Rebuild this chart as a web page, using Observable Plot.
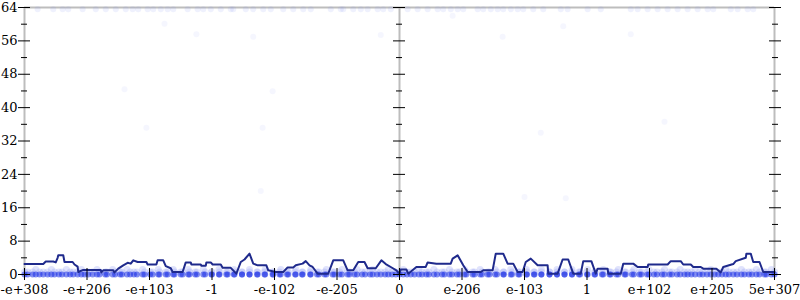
<!DOCTYPE html>
<html>
<head>
<meta charset="utf-8">
<script src="https://cdn.jsdelivr.net/npm/d3@7"></script>
<script src="https://cdn.jsdelivr.net/npm/@observablehq/plot@0.6"></script>
<style>
  html, body { margin: 0; padding: 0; background: #fff; }
  #chart svg { display: block; }
</style>
</head>
<body>
<div id="chart"></div>
<script>
// X axis: evenly spaced positions with their labels
const xTicks = [-6, -5, -4, -3, -2, -1, 0, 1, 2, 3, 4, 5, 6];
const xLabels = ["-e+308", "-e+206", "-e+103", "-1", "-e-102", "-e-205", "0",
                 "e-206", "e-103", "1", "e+102", "e+205", "5e+307"];
const yMajor = [0, 8, 16, 24, 32, 40, 48, 56, 64];
const yMinor = [4, 12, 20, 28, 36, 44, 52, 60];

// Rolling line (x position, value)
const lineX = [-6.00,-5.70,-5.66,-5.54,-5.50,-5.47,-5.46,-5.38,-5.36,-5.23,-5.20,-5.15,-5.14,-5.06,-4.78,-4.77,-4.74,-4.58,-4.56,-4.50,-4.42,-4.35,-4.30,-4.26,-4.19,-4.05,-4.03,-3.89,-3.87,-3.78,-3.74,-3.66,-3.63,-3.47,-3.42,-3.34,-3.33,-3.18,-3.17,-3.10,-3.09,-3.02,-2.99,-2.86,-2.83,-2.70,-2.61,-2.54,-2.48,-2.40,-2.34,-2.27,-2.13,-2.10,-1.98,-1.86,-1.79,-1.70,-1.66,-1.55,-1.50,-1.44,-1.39,-1.31,-1.14,-1.06,-0.90,-0.83,-0.74,-0.66,-0.56,-0.51,-0.38,-0.29,-0.22,-0.14,-0.05,0.00,0.02,0.11,0.14,0.27,0.42,0.45,0.59,0.82,0.85,0.90,0.93,1.02,1.09,1.30,1.34,1.49,1.54,1.66,1.73,1.82,1.89,1.97,2.02,2.10,2.21,2.37,2.38,2.53,2.61,2.70,2.78,2.90,2.94,3.07,3.14,3.17,3.33,3.34,3.54,3.58,3.74,3.81,3.97,3.98,4.29,4.34,4.50,4.54,4.66,4.70,4.82,4.86,5.07,5.14,5.18,5.34,5.38,5.54,5.55,5.62,5.66,5.76,5.82,6.00];
const lineY = [2.5,2.5,3.1,3.1,2.9,4.0,4.6,4.6,3.0,3.0,2.4,1.9,0.6,1.1,1.1,0.5,1.0,1.0,0.5,1.4,2.2,2.8,2.6,3.4,3.0,3.0,2.4,2.4,3.4,3.4,2.0,1.5,0.6,0.6,2.9,2.9,2.4,2.4,2.1,2.1,2.9,2.9,2.4,2.4,1.6,1.6,0.2,3.0,3.6,5.0,2.6,2.2,2.2,1.0,0.6,0.6,1.7,1.7,2.2,2.6,3.2,2.2,1.8,0.2,0.2,3.4,3.4,1.0,1.0,3.0,3.0,1.5,1.5,3.4,2.5,1.8,1.0,0.2,1.2,1.2,0.2,1.8,1.8,2.9,2.6,2.6,3.8,4.3,4.6,2.2,0.6,0.6,1.0,1.0,5.0,5.0,2.6,2.6,0.6,0.6,3.0,3.8,2.2,2.2,0.2,0.2,3.6,3.6,0.2,0.2,3.2,3.2,0.2,1.4,1.4,0.2,0.2,2.6,2.6,1.8,1.8,2.4,2.4,3.2,3.2,2.4,2.4,1.8,1.8,1.4,1.4,0.5,1.8,2.5,3.2,4.0,5.0,5.0,3.0,3.0,0.6,0.6];

// Points at value 0 (dense row along the bottom)
const zeroX = [-6.00,-5.87,-5.76,-5.63,-5.52,-5.40,-5.27,-5.15,-5.04,-4.91,-4.80,-4.68,-4.55,-4.44,-4.31,-4.20,-4.08,-3.95,-3.84,-3.71,-3.60,-3.47,-3.36,-3.24,-3.11,-3.00,-2.88,-2.75,-2.64,-2.52,-2.40,-2.27,-2.16,-2.03,-1.92,-1.80,-1.67,-1.56,-1.43,-1.32,-1.20,-1.07,-0.96,-0.83,-0.72,-0.60,-0.47,-0.36,-0.23,-0.12,0.00,0.12,0.24,0.36,0.47,0.60,0.72,0.84,0.96,1.07,1.20,1.32,1.44,1.56,1.67,1.80,1.92,2.04,2.16,2.27,2.40,2.52,2.64,2.76,2.87,3.00,3.12,3.24,3.36,3.47,3.60,3.72,3.84,3.96,4.07,4.20,4.32,4.44,4.56,4.67,4.80,4.92,5.04,5.16,5.27,5.40,5.52,5.64,5.76,5.87,6.00];
// Points at small values (light band)
const lowX1 = [-5.95,-5.70,-5.45,-5.22,-4.98,-4.71,-4.47,-4.25,-3.99,-3.74,-3.50,-3.27,-3.01,-2.77,-2.52,-2.28,-2.02,-1.78,-1.55,-1.29,-1.04,-0.80,-0.55,-0.30,-0.06,0.18,0.43,0.68,0.92,1.17,1.41,1.66,1.90,2.15,2.40,2.64,2.89,3.13,3.38,3.62,3.87,4.12,4.36,4.61,4.85,5.10,5.34,5.59,5.84];
const lowX2 = [-5.82,-5.57,-5.33,-5.09,-4.84,-4.59,-4.36,-4.11,-3.86,-3.62,-3.38,-3.14,-2.89,-2.65,-2.40,-2.15,-1.90,-1.66,-1.42,-1.17,-0.92,-0.68,-0.43,-0.18,0.06,0.31,0.55,0.80,1.04,1.29,1.53,1.78,2.03,2.27,2.52,2.76,3.01,3.26,3.50,3.75,3.99,4.24,4.49,4.73,4.98,5.22,5.47,5.71,5.95];
const lowY1 = 0.6;
const lowY2 = 1.2;
// Points at 64 (top row)
const topX = [-5.79,-5.54,-5.39,-5.30,-5.07,-4.86,-4.70,-4.54,-4.38,-4.27,-4.18,-4.03,-3.94,-3.82,-3.71,-3.62,-3.39,-3.23,-3.14,-3.02,-2.86,-2.70,-2.66,-2.46,-2.34,-2.18,-2.06,-1.86,-1.70,-1.54,-1.42,-1.10,-0.94,-0.90,-0.74,-0.62,-0.51,-0.35,-0.26,-0.14,0.13,0.29,0.45,0.61,0.70,0.82,0.93,1.02,1.25,1.34,1.46,1.57,1.66,1.78,1.89,1.98,2.14,2.30,2.58,2.69,3.01,3.22,3.70,3.81,3.97,4.13,4.29,4.45,4.61,4.77,4.93,5.02,5.30,5.41,5.57,5.66];
const topY = 63.6;
// Scattered points in between
const midX = [-3.76,-3.25,-2.34,-0.30,-4.40,-2.03,-4.05,-2.19,-2.22,4.24,2.26,2.00,2.66,2.62,3.70,1.65,0.85];
const midY = [60.1,57.6,57.0,57.4,44.4,43.9,35.2,35.2,20.0,36.6,34.0,18.6,18.3,59.5,57.6,57.0,62.0];

const line = lineX.map((x, i) => ({x, y: lineY[i]}));
const zeros = zeroX.concat(lowX1, lowX2).map(x => ({x, y: 0}));
const low = lowX1.map(x => ({x, y: lowY1})).concat(lowX2.map(x => ({x, y: lowY2})), zeroX.map(x => ({x, y: lowY1})));
const tops = topX.map(x => ({x, y: topY}));
const mids = midX.map((x, i) => ({x, y: midY[i]}));

const font = "DejaVu Serif";
const grey = "#bdbdbd";

const chart = Plot.plot({
  width: 800,
  height: 300,
  marginLeft: 24,
  marginRight: 26,
  marginTop: 7,
  marginBottom: 26,
  style: {fontFamily: font, fontSize: "13px", background: "#fff", color: "#000"},
  x: {domain: [-6, 6]},
  y: {domain: [0, 64]},
  marks: [
    Plot.ruleX([xTicks[0], xTicks[6], xTicks[12]], {stroke: grey, strokeWidth: 2}),
    Plot.ruleY([yMajor[8]], {stroke: grey, strokeWidth: 2}),
    Plot.dot(low, {x: "x", y: "y", r: 3.5, fill: "#7d89f2", fillOpacity: 0.24, stroke: "none"}),
    Plot.dot(tops, {x: "x", y: "y", r: 3, fill: "#7d89f2", fillOpacity: 0.12, stroke: "none"}),
    Plot.dot(mids, {x: "x", y: "y", r: 3, fill: "#7d89f2", fillOpacity: 0.08, stroke: "none"}),
    Plot.dot(zeros, {x: "x", y: "y", r: 3, fill: "#1f33e6", fillOpacity: 0.55, stroke: "none"}),
    Plot.line(line, {x: "x", y: "y", stroke: "#1f2a8c", strokeWidth: 2, curve: "linear"}),
    // left y axis with labels
    Plot.axisY(yMajor, {anchor: "left", tickSize: 6, tickPadding: 1, fontSize: 13, label: null}),
    Plot.axisY(yMajor, {anchor: "left", tickSize: 6, dx: 6, fill: "none", label: null}),
    Plot.axisY(yMinor, {anchor: "left", tickSize: 6, dx: 3, fill: "none", label: null}),
    // centre ticks
    Plot.axisY(yMajor, {anchor: "left", tickSize: 12, dx: 381, fill: "none", label: null}),
    Plot.axisY(yMinor, {anchor: "left", tickSize: 6, dx: 378, fill: "none", label: null}),
    // right ticks
    Plot.axisY(yMajor, {anchor: "right", tickSize: 12, dx: -6, fill: "none", label: null}),
    Plot.axisY(yMinor, {anchor: "right", tickSize: 6, dx: -3, fill: "none", label: null}),
    // x axis
    Plot.axisX(xTicks, {anchor: "bottom", tickSize: 6, tickPadding: 4, fontSize: 13, label: null,
      tickFormat: (d) => xLabels[xTicks.indexOf(d)]}),
    Plot.axisX(xTicks, {anchor: "bottom", tickSize: 6, dy: -6, fill: "none", label: null})
  ]
});
document.getElementById("chart").appendChild(chart);
</script>
</body>
</html>
